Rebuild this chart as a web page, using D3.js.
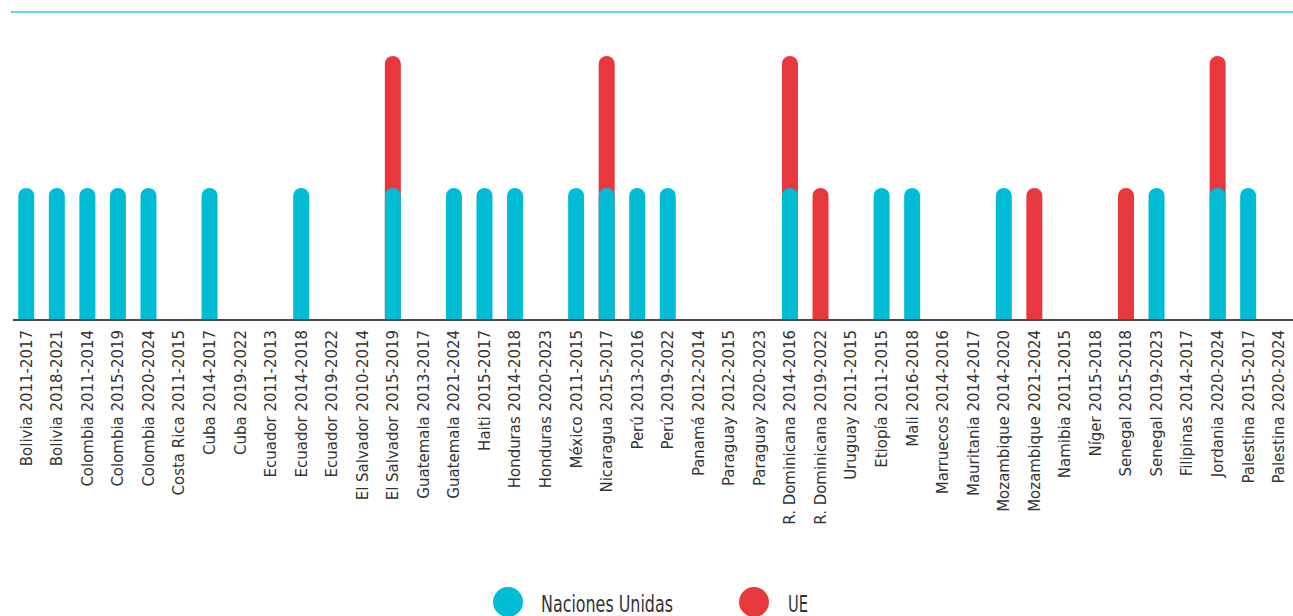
<!DOCTYPE html>
<html>
<head>
<meta charset="utf-8">
<script src="https://cdn.jsdelivr.net/npm/d3@7"></script>
<style>
  html, body { margin: 0; padding: 0; background: #fff; }
  svg { display: block; }
  .lbl { font-family: "Liberation Sans Narrow", "DejaVu Sans Condensed", "Roboto", sans-serif; font-stretch: condensed; }
</style>
</head>
<body>
<svg id="chart" width="1293" height="616"></svg>
<script>
const categories = [
  "Bolivia 2011-2017","Bolivia 2018-2021","Colombia 2011-2014","Colombia 2015-2019","Colombia 2020-2024",
  "Costa Rica 2011-2015","Cuba 2014-2017","Cuba 2019-2022","Ecuador 2011-2013","Ecuador 2014-2018",
  "Ecuador 2019-2022","El Salvador 2010-2014","El Salvador 2015-2019","Guatemala 2013-2017","Guatemala 2021-2024",
  "Haiti 2015-2017","Honduras 2014-2018","Honduras 2020-2023","México 2011-2015","Nicaragua 2015-2017",
  "Perú 2013-2016","Perú 2019-2022","Panamá 2012-2014","Paraguay 2012-2015","Paraguay 2020-2023",
  "R. Dominicana 2014-2016","R. Dominicana 2019-2022","Uruguay 2011-2015","Etiopía 2011-2015","Mali 2016-2018",
  "Marruecos 2014-2016","Mauritania 2014-2017","Mozambique 2014-2020","Mozambique 2021-2024","Namibia 2011-2015",
  "Níger 2015-2018","Senegal 2015-2018","Senegal 2019-2023","Filipinas 2014-2017","Jordania 2020-2024",
  "Palestina 2015-2017","Palestina 2020-2024"
];
const naciones = [1,1,1,1,1, 0,1,0,0,1, 0,0,1,0,1, 1,1,0,1,1, 1,1,0,0,0, 1,0,0,1,1, 0,0,1,0,0, 0,0,1,0,1, 1,0];
const ue       = [0,0,0,0,0, 0,0,0,0,0, 0,0,1,0,0, 0,0,0,0,1, 0,0,0,0,0, 1,1,0,0,0, 0,0,0,1,0, 0,1,0,0,1, 0,0];
const seriesNames = ["Naciones Unidas","UE"];
const colors = ["#00BCD4","#E8383D"];

const svg = d3.select("#chart");
const x = d3.scaleBand().domain(categories).range([11, 1294]).padding(0);
const y = d3.scaleLinear().domain([0, 2]).range([320, 56]);
const bw = 16, r = 8;

function barPath(cx, top, bottom) {
  const x0 = cx - bw/2, x1 = cx + bw/2;
  return `M${x0},${bottom}V${top + r}A${r},${r} 0 0 1 ${x1},${top + r}V${bottom}Z`;
}

// top rule
svg.append("line").attr("x1", 11).attr("x2", 1293).attr("y1", 12).attr("y2", 12)
  .attr("stroke", "#33C6D9").attr("stroke-width", 1.5);

const data = categories.map((c, i) => ({c, un: naciones[i], eu: ue[i]}));
const g = svg.append("g");
// EU (stacked on top of UN)
g.selectAll("path.eu").data(data.filter(d => d.eu > 0)).join("path")
  .attr("class", "eu")
  .attr("fill", colors[1])
  .attr("d", d => barPath(x(d.c) + x.bandwidth()/2, y(d.un + d.eu), y(0)));
// UN
g.selectAll("path.un").data(data.filter(d => d.un > 0)).join("path")
  .attr("class", "un")
  .attr("fill", colors[0])
  .attr("d", d => barPath(x(d.c) + x.bandwidth()/2, y(d.un), y(0)));

// axis
const ax = svg.append("g").attr("transform", `translate(0,${y(0)})`)
  .call(d3.axisBottom(x).tickSize(0).tickSizeOuter(0));
ax.select(".domain").attr("stroke", "#4a4a4a").attr("stroke-width", 2).attr("d", "M13,0H1293");
ax.selectAll("text")
  .attr("class", "lbl")
  .attr("font-size", 15)
  .attr("fill", "#333")
  .attr("text-anchor", "end")
  .attr("transform", "rotate(-90) scale(1.11,1)")
  .attr("x", -9).attr("y", 0).attr("dy", "0.36em");

// legend
const leg = svg.append("g");
const legItems = [{n: seriesNames[0], c: colors[0], cx: 508, tx: 541, w: 132}, {n: seriesNames[1], c: colors[1], cx: 754, tx: 788, w: 20}];
leg.selectAll("circle").data(legItems).join("circle")
  .attr("cx", d => d.cx).attr("cy", 602).attr("r", 15).attr("fill", d => d.c);
leg.selectAll("text").data(legItems).join("text")
  .attr("class", "lbl")
  .attr("x", d => d.tx).attr("y", 612)
  .attr("font-size", 23).attr("fill", "#333")
  .attr("textLength", d => d.w).attr("lengthAdjust", "spacingAndGlyphs")
  .text(d => d.n);
</script>
</body>
</html>
